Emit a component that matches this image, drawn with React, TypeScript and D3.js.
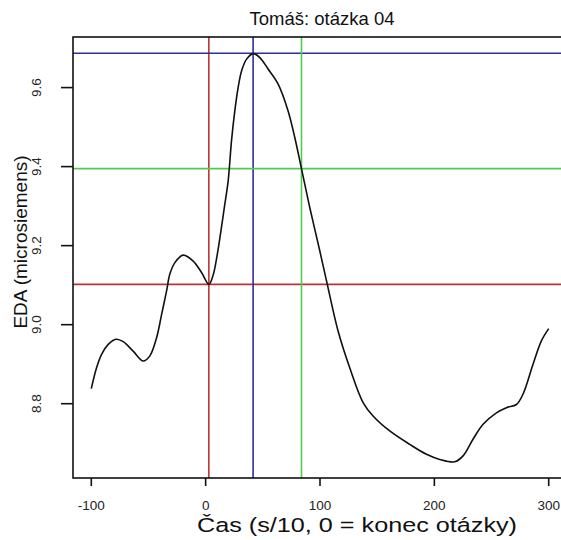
import React from "react";
import * as d3 from "d3";

const title = "Tomáš: otázka 04";
const xLabel = "Čas (s/10, 0 = konec otázky)";
const yLabel = "EDA (microsiemens)";

const xTicks = [-100, 0, 100, 200, 300];
const yTicks = [8.8, 9.0, 9.2, 9.4, 9.6];

// EDA curve (time in s/10, value in microsiemens)
const timeValues = [
  -100, -95.4, -91, -85.2, -78.5, -72.1, -63.4, -54.6, -48.8, -42.9, -38.5, -34.2, -31.3, -26.9, -19.7,
  -10.9, -3.6, 2.8, 6.5, 10, 13.5, 16.5, 19.7, 22.6, 25.5, 28.4, 31.4, 35.8, 41.5, 47.4, 54.6, 63.4,
  72.1, 78, 83.8, 91.1, 99.8, 105.7, 115.8, 126, 137.7, 146.4, 161, 178.5, 193.1, 204.7, 217.8, 225.1,
  233.8, 242.6, 254.3, 263, 271.8, 277.5, 286.3, 293.6, 300,
];
const edaValues = [
  8.838, 8.891, 8.925, 8.95, 8.963, 8.957, 8.933, 8.908, 8.921, 8.967, 9.026, 9.085, 9.128, 9.157, 9.176,
  9.161, 9.132, 9.102, 9.125, 9.175, 9.24, 9.3, 9.364, 9.465, 9.541, 9.6, 9.642, 9.672, 9.686, 9.676,
  9.647, 9.609, 9.541, 9.473, 9.395, 9.296, 9.187, 9.111, 8.984, 8.891, 8.803, 8.769, 8.731, 8.697,
  8.672, 8.659, 8.653, 8.668, 8.71, 8.748, 8.777, 8.79, 8.798, 8.824, 8.9, 8.959, 8.99,
];

// Marker lines (red = local min, blue = max, green = crossing)
const markerNames = ["min", "max", "cross"];
const markerTimes = [2.8, 41.5, 83.8];
const markerValues = [9.102, 9.687, 9.395];
const markerColors = ["#b83434", "#2e2e9e", "#4fcb4f"];

const W = 561;
const H = 540;
const plotLeft = 73;
const plotRight = 567;
const plotTop = 37;
const plotBottom = 478;

export default function App() {
  const x = d3.scaleLinear().domain([-116, 316]).range([plotLeft, plotRight]);
  const y = d3.scaleLinear().domain([8.612, 9.728]).range([plotBottom, plotTop]);

  const pts: [number, number][] = timeValues.map((t, i) => [t, edaValues[i]]);
  const line = d3
    .line<[number, number]>()
    .x((d) => x(d[0]))
    .y((d) => y(d[1]))
    .curve(d3.curveCatmullRom.alpha(0.5));

  const font = "'Liberation Sans', Arial, Helvetica, sans-serif";

  return (
    <svg
      width={W}
      height={H}
      style={{ position: "absolute", left: 0, top: 0, background: "#fff" }}
      fontFamily={font}
    >
      <rect x={0} y={0} width={W} height={H} fill="#fff" />
      {/* marker lines */}
      {markerNames.map((n, i) => (
        <g key={n}>
          <line
            x1={x(markerTimes[i])}
            x2={x(markerTimes[i])}
            y1={plotTop}
            y2={plotBottom}
            stroke={markerColors[i]}
            strokeWidth={1.6}
          />
          <line
            x1={plotLeft}
            x2={plotRight}
            y1={y(markerValues[i])}
            y2={y(markerValues[i])}
            stroke={markerColors[i]}
            strokeWidth={1.6}
          />
        </g>
      ))}
      {/* curve */}
      <path d={line(pts) || ""} fill="none" stroke="#111" strokeWidth={1.6} />
      {/* box */}
      <rect
        x={plotLeft}
        y={plotTop}
        width={plotRight - plotLeft}
        height={plotBottom - plotTop}
        fill="none"
        stroke="#111"
        strokeWidth={1.6}
      />
      {/* x axis */}
      {xTicks.map((t) => (
        <g key={t}>
          <line x1={x(t)} x2={x(t)} y1={plotBottom} y2={plotBottom + 8} stroke="#111" strokeWidth={1.6} />
          <text x={x(t)} y={510} textAnchor="middle" fontSize={13.5} fill="#222">
            {t}
          </text>
        </g>
      ))}
      {/* y axis */}
      {yTicks.map((t) => (
        <g key={t}>
          <line x1={plotLeft - 12} x2={plotLeft} y1={y(t)} y2={y(t)} stroke="#111" strokeWidth={1.6} />
          <text
            transform={`translate(41,${y(t)}) rotate(-90)`}
            textAnchor="middle"
            fontSize={13.5}
            fill="#222"
          >
            {t.toFixed(1)}
          </text>
        </g>
      ))}
      {/* labels */}
      <text x={322} y={24.5} textAnchor="middle" fontSize={18.5} fill="#111">
        {title}
      </text>
      <text
        x={197}
        y={532}
        textAnchor="start"
        fontSize={20.5}
        textLength={320}
        lengthAdjust="spacingAndGlyphs"
        fill="#111"
      >
        {xLabel}
      </text>
      <text
        transform={`translate(27,242) rotate(-90)`}
        textAnchor="middle"
        fontSize={19}
        fill="#111"
      >
        {yLabel}
      </text>
    </svg>
  );
}
